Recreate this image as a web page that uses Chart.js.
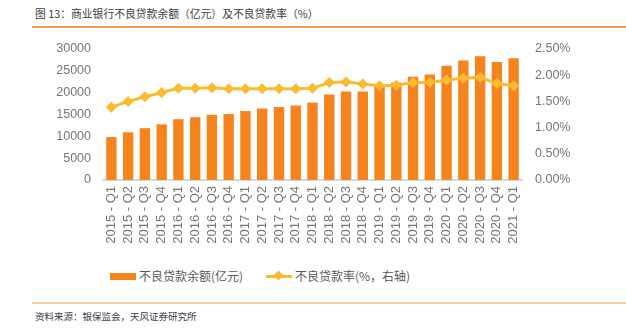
<!DOCTYPE html>
<html><head><meta charset="utf-8">
<script src="https://cdn.jsdelivr.net/npm/chart.js@4"></script>
<style>
html,body{margin:0;padding:0;background:#fff;width:626px;height:328px;overflow:hidden;font-family:"Liberation Sans","Noto Sans CJK SC",sans-serif;}
#title{position:absolute;left:35px;top:5px;font-size:10.8px;color:#404040;font-family:"Noto Sans CJK SC",sans-serif;white-space:nowrap;}
#tline{position:absolute;left:32px;top:26px;width:594px;height:1.5px;background:#F39A4C;}
#fline{position:absolute;left:32px;top:302px;width:594px;height:2px;background:#F9CBA4;}
#src{position:absolute;left:35px;top:309px;font-size:9.5px;color:#404040;font-family:"Noto Sans CJK SC",sans-serif;white-space:nowrap;}
#wrap{position:absolute;left:0;top:0;width:626px;height:260px;}
.lg{position:absolute;top:268px;font-size:12px;color:#595959;font-family:"Noto Sans CJK SC",sans-serif;white-space:nowrap;line-height:16px;}
.sw{position:absolute;}
</style></head><body>
<div id="title">图 13：商业银行不良贷款余额（亿元）及不良贷款率（%）</div>
<div id="tline"></div>
<div id="wrap"><canvas id="c" width="626" height="260"></canvas></div>
<div class="sw" style="left:110px;top:273px;width:26px;height:7px;background:#F5841F"></div>
<div class="lg" style="left:139px">不良贷款余额(亿元)</div>
<div class="sw" style="left:266px;top:275px;width:26px;height:3px;background:#FCBA2E"></div>
<div class="sw" style="left:275px;top:272px;width:7px;height:7px;background:#FCBA2E;transform:rotate(45deg)"></div>
<div class="lg" style="left:295px">不良贷款率(%，右轴)</div>
<div id="fline"></div>
<div id="src">资料来源：银保监会，天风证券研究所</div>
<script>
const categories = ["2015 - Q1","2015 - Q2","2015 - Q3","2015 - Q4","2016 - Q1","2016 - Q2","2016 - Q3","2016 - Q4","2017 - Q1","2017 - Q2","2017 - Q3","2017 - Q4","2018 - Q1","2018 - Q2","2018 - Q3","2018 - Q4","2019 - Q1","2019 - Q2","2019 - Q3","2019 - Q4","2020 - Q1","2020 - Q2","2020 - Q3","2020 - Q4","2021 - Q1"];
const nplBalance = [9825,10919,11863,12744,13921,14373,14939,15123,15795,16358,16704,17057,17742,19571,20254,20254,21571,22352,23672,24135,26136,27365,28350,27014,27883];
const nplRatio = [1.39,1.50,1.59,1.67,1.75,1.75,1.76,1.74,1.74,1.74,1.74,1.74,1.75,1.86,1.87,1.83,1.80,1.81,1.86,1.86,1.91,1.94,1.96,1.84,1.80];
const leftTicks = [0,5000,10000,15000,20000,25000,30000];
const rightTicks = [0,0.5,1.0,1.5,2.0,2.5];

const tickFont = {family:"Liberation Sans", size:12.5};
new Chart(document.getElementById('c'), {
  data: {
    labels: categories,
    datasets: [
      {type:'line', label:'不良贷款率(%，右轴)', data:nplRatio, yAxisID:'y1', borderColor:'#FCBA2E', backgroundColor:'#FCBA2E', borderWidth:3, pointStyle:'rectRot', pointRadius:5.5, pointBorderWidth:0, tension:0, order:0},
      {type:'bar', label:'不良贷款余额(亿元)', data:nplBalance, yAxisID:'y', backgroundColor:'#F5841F', barPercentage:0.62, categoryPercentage:1, order:1}
    ]
  },
  options: {
    responsive:false, animation:false,
    layout:{padding:{top:49,left:0,right:0,bottom:0}},
    plugins:{legend:{display:false}, tooltip:{enabled:false}},
    scales:{
      x:{
        grid:{display:false, drawTicks:false, tickLength:0},
        border:{display:true, color:'#D9D9D9', width:2},
        ticks:{color:'#767676', font:{family:"Liberation Sans", size:13}, minRotation:90, maxRotation:90, autoSkip:false, padding:6},
        afterFit:(s)=>{s.height=80;}
      },
      y:{
        position:'left', min:0, max:30000,
        grid:{display:false, drawTicks:false, tickLength:0}, border:{display:false},
        afterBuildTicks:(s)=>{s.ticks = leftTicks.map(v=>({value:v}));},
        ticks:{color:'#767676', font:tickFont, padding:12, callback:(v)=>String(v)},
        afterFit:(s)=>{s.width=103;}
      },
      y1:{
        position:'right', min:0, max:2.5,
        grid:{display:false, drawTicks:false, tickLength:0}, border:{display:false},
        afterBuildTicks:(s)=>{s.ticks = rightTicks.map(v=>({value:v}));},
        ticks:{color:'#767676', font:tickFont, padding:13, callback:(v)=>Number(v).toFixed(2)+'%'},
        afterFit:(s)=>{s.width=104;}
      }
    }
  }
});
</script>
</body></html>
